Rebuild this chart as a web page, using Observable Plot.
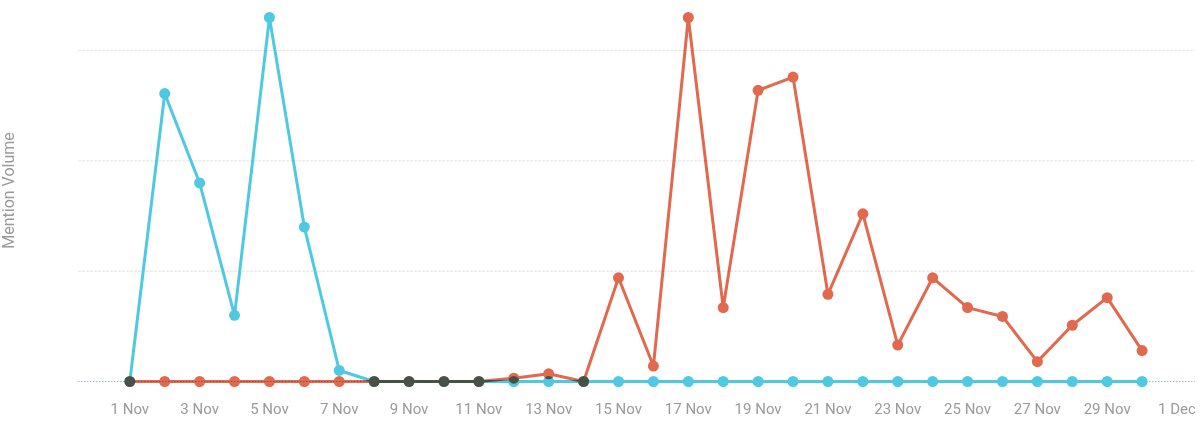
<!DOCTYPE html>
<html>
<head>
<meta charset="utf-8">
<script src="https://cdn.jsdelivr.net/npm/d3@7"></script>
<script src="https://cdn.jsdelivr.net/npm/@observablehq/plot@0.6"></script>
<style>
  html, body { margin: 0; padding: 0; background: #fff; }
  #chart svg { display: block; font-family: Roboto, "Open Sans", sans-serif; }
</style>
</head>
<body>
<div id="chart"></div>
<script>
// Days of November
const days = d3.range(1, 31);
// Series values (mention volume)
const cyanValues = [0, 261, 180, 60, 330, 140, 10, 0, 0, 0, 0, 0, 0, 0, 0,
  0, 0, 0, 0, 0, 0, 0, 0, 0, 0, 0, 0, 0, 0, 0];
const redValues = [0, 0, 0, 0, 0, 0, 0, 0, 0, 0, 0, 3, 7, 0, 94,
  14, 330, 67, 264, 276, 79, 152, 33, 94, 67, 59, 18, 51, 76, 28];
const tickDays = [1, 3, 5, 7, 9, 11, 13, 15, 17, 19, 21, 23, 25, 27, 29, 31];
const gridValues = [100, 200, 300];
const yLabel = "Mention Volume";

const cyan = "#4fc9e1";
const red = "#e2684e";
const dayMs = 864e5;
const date = d => new Date(Date.UTC(2023, 10, d));

const cyanData = days.map((d, i) => ({date: date(d), value: cyanValues[i]}));
const redData = days.map((d, i) => ({date: date(d), value: redValues[i]}));
const ticks = tickDays.map(date);

const x0 = new Date(+date(1) - 1.47 * dayMs);
const x1 = new Date(+date(1) + 30.53 * dayMs);

const chart = Plot.plot({
  width: 1200,
  height: 429,
  marginLeft: 78,
  marginRight: 5,
  marginTop: 17,
  marginBottom: 48,
  x: {type: "utc", domain: [x0, x1]},
  y: {domain: [0, 330]},
  style: {fontFamily: "Roboto, sans-serif"},
  marks: [
    Plot.ruleY(gridValues, {stroke: "#e3e3e3", strokeWidth: 1, strokeDasharray: "3,1"}),
    Plot.ruleY([0], {stroke: "#a9bccd", strokeWidth: 1, strokeDasharray: "1.5,1.5"}),
    Plot.axisX({
      ticks: ticks,
      tickFormat: d3.utcFormat("%-d %b"),
      tickSize: 0,
      tickPadding: 22,
      fontSize: 15,
      color: "#9a9a9a",
      label: null
    }),
    Plot.axisY({ticks: [], label: null}),
    Plot.text([yLabel], {
      frameAnchor: "left",
      textAnchor: "middle",
      rotate: -90,
      dx: -70,
      dy: -9,
      fontSize: 16,
      fill: "#9a9a9a"
    }),
    Plot.line(cyanData, {x: "date", y: "value", stroke: cyan, strokeWidth: 3}),
    Plot.dot(cyanData, {x: "date", y: "value", fill: cyan, r: 5.5}),
    Plot.line(redData, {x: "date", y: "value", stroke: red, strokeWidth: 3}),
    Plot.dot(redData, {x: "date", y: "value", fill: red, r: 5.5})
  ]
});
document.getElementById("chart").appendChild(chart);

// Blend the second series (as a whole) over the first one.
const lines = chart.querySelectorAll("g[aria-label='line']");
const dots = chart.querySelectorAll("g[aria-label='dot']");
if (lines.length > 1 && dots.length > 1) {
  const ns = "http://www.w3.org/2000/svg";
  const grp = document.createElementNS(ns, "g");
  grp.setAttribute("style", "mix-blend-mode: multiply");
  lines[1].parentNode.insertBefore(grp, lines[1]);
  grp.appendChild(lines[1]);
  grp.appendChild(dots[1]);
}
</script>
</body>
</html>
